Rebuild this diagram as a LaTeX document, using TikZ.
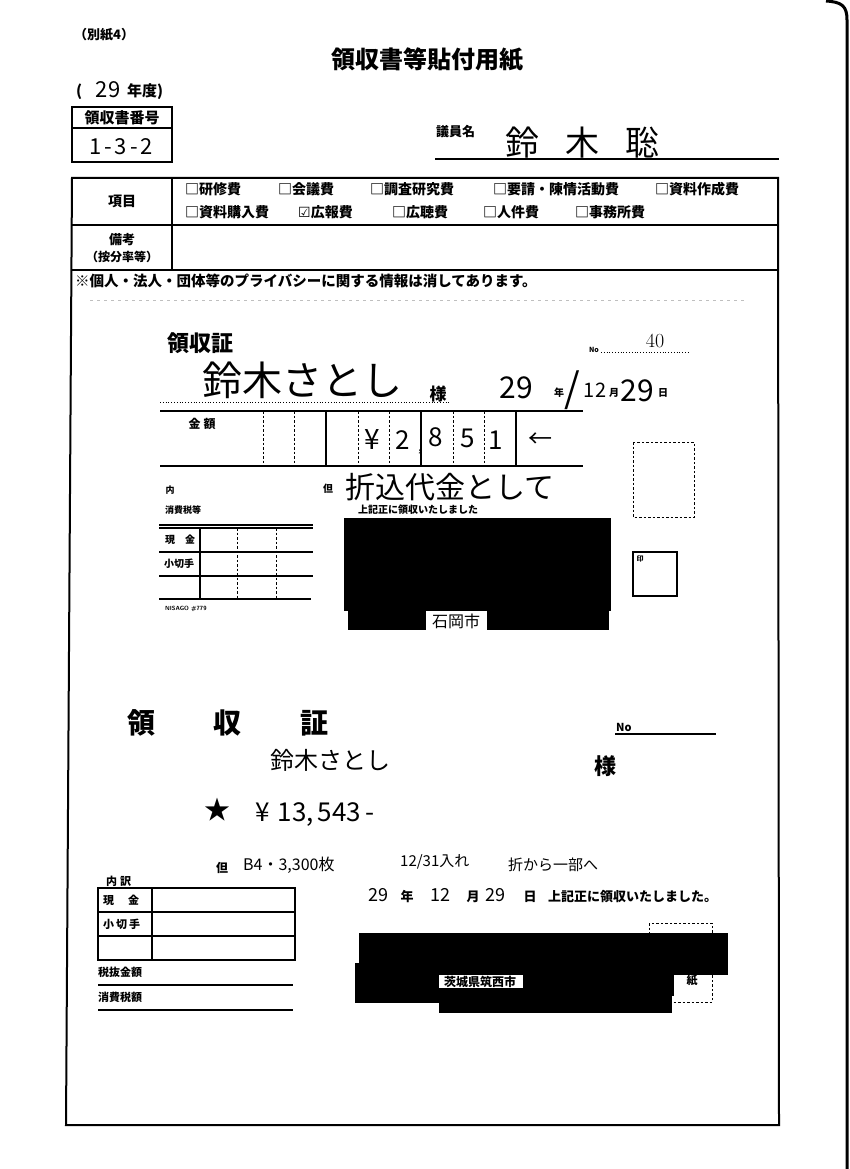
\documentclass[tikz,border=0pt]{standalone}
\usepackage{fontspec}
\newfontfamily\jp{Noto Sans CJK JP}
\newfontfamily\dv{DejaVu Sans}
\begin{document}
\begin{tikzpicture}[x=1pt,y=-1pt]
\tikzset{
  pb/.style={font=\jp\bfseries\fontsize{#1}{#1}\selectfont, inner sep=0pt},
  hw/.style={font=\jp\fontsize{#1}{#1}\selectfont, inner sep=0pt},
  frame/.style={line width=2pt},
  thinline/.style={line width=1.1pt},
  dsh/.style={line width=1pt, dash pattern=on 2.5pt off 2pt},
  redact/.style={fill=black},
}
\useasboundingbox[fill=white] (0,0) rectangle (850,1169);

% ---------- header ----------
\node[pb=13, anchor=west] (bessi) at (74,35) {（別紙4）};
\node[pb=24] (title) at (427,60) {領収書等貼付用紙};
\node[pb=15, anchor=west] (nendoL) at (76,92) {(};
\node[hw=22] (nendoN) at (108,90) {29};
\node[pb=15, anchor=west] (nendoR) at (127,92) {年度)};
\draw[frame] (72,107) rectangle (172,162);
\draw[frame] (72,128) -- (172,128);
\node[pb=15] (rsbLbl) at (122,118) {領収書番号};
\node[hw=22] (rsbNo) at (121,147) {1\hspace{3pt}-\hspace{3pt}3\hspace{3pt}-\hspace{3pt}2};
\node[pb=13, anchor=west] (giin) at (436,132) {議員名};
\node[hw=34, anchor=west] (giinName) at (505,143) {鈴\hspace{26pt}木\hspace{26pt}聡};
\draw[line width=1.6pt] (435,159) -- (779,159);

% ---------- main frame ----------
\draw[frame] (72,178) -- (778,178) -- (779,1125) -- (66,1125) -- (72,178) -- cycle;
\draw[frame] (72,225) -- (778,225);
\draw[frame] (72,270) -- (778,270);
\draw[frame] (172,178) -- (172,270);
\node[pb=14] (koumoku) at (122,201) {項目};
\node[pb=13] (bikou) at (122,240) {備考};
\node[pb=12] (anbun) at (122,257) {（按分率等）};
\node[pb=14, anchor=west] (c1) at (185,189) {□研修費};
\node[pb=14, anchor=west] (c2) at (278,189) {□会議費};
\node[pb=14, anchor=west] (c3) at (370,189) {□調査研究費};
\node[pb=14, anchor=west] (c4) at (493,189) {□要請・陳情活動費};
\node[pb=14, anchor=west] (c5) at (655,189) {□資料作成費};
\node[pb=14, anchor=west] (c6) at (185,212) {□資料購入費};
\node[pb=14, anchor=west] (c7) at (298,212) {{\dv\mdseries ☑}広報費};
\node[pb=14, anchor=west] (c8) at (392,212) {□広聴費};
\node[pb=14, anchor=west] (c9) at (483,212) {□人件費};
\node[pb=14, anchor=west] (c10) at (575,212) {□事務所費};
\node[pb=14.5, anchor=west] (privacy) at (75,281) {※個人・法人・団体等のプライバシーに関する情報は消してあります。};
\draw[gray!50, line width=0.6pt, dash pattern=on 3pt off 4pt] (90,300) -- (745,300);

% ---------- receipt 1 ----------
\node[pb=22, anchor=west] (r1title) at (167,343) {領収証};
\node[pb=7] (r1nolbl) at (594,350) {No};
\draw[dotted, line width=0.8pt] (601,352) -- (690,352);
\node[font=\rmfamily\fontsize{20}{20}\selectfont, inner sep=0pt] (r1no) at (655,341) {40};
\node[hw=40, anchor=west] (r1name) at (202,380) {鈴木さとし};
\node[pb=17] (r1sama) at (438,394) {様};
\draw[dotted, line width=0.8pt] (160,402) -- (450,402);
\node[hw=30] (r1y) at (516,388) {29};
\node[pb=10] (r1nen) at (559,393) {年};
\node[hw=40] (r1slash) at (572,390) {/};
\node[hw=20] (r1m) at (595,390) {12};
\node[pb=10] (r1gatsu) at (614,393) {月};
\node[hw=30] (r1d) at (637,391) {29};
\node[pb=10] (r1nichi) at (663,393) {日};
\draw[line width=2pt] (160,411) -- (583,411);
\draw[thinline] (160,466) -- (583,466);
\foreach \xx in {263,294,358,389,453,484} {\draw[dsh] (\xx,411) -- (\xx,466);}
\draw[line width=1.8pt] (326,411) -- (326,466);
\draw[thinline] (421,411) -- (421,466);
\draw[line width=1.6pt] (516,411) -- (516,466);
\node[pb=12] (r1kingaku) at (202,424) {金\hspace{3pt}額};
\node[hw=28] (r1yen) at (372,440) {¥};
\node[hw=26] (r1d1) at (403,440) {2};
\node[hw=14] (r1comma) at (420,452) {,};
\node[hw=26] (r1d2) at (436,437) {8};
\node[hw=26] (r1d3) at (468,438) {5};
\node[hw=26] (r1d4) at (496,440) {1};
\node[hw=24] (r1arrow) at (540,440) {←};
\node[pb=9] (r1uchi) at (170,490) {内};
\node[pb=10] (r1tadashi) at (328,489) {但};
\node[hw=30, anchor=west] (r1tada) at (345,487) {折込代金として};
\node[pb=9, anchor=west] (r1tax) at (165,510) {消費税等};
\node[pb=10, anchor=west] (r1ryoshu) at (358,510) {上記正に領収いたしました};
\draw[dsh] (633,442) rectangle (694,517);
\draw[thinline] (159,525) -- (313,525);
\draw[thinline] (159,528) -- (313,528);
\draw[thinline] (159,552) -- (313,552);
\draw[thinline] (159,576) -- (313,576);
\draw[thinline] (159,599) -- (311,599);
\draw[thinline] (200,528) -- (200,599);
\draw[dsh] (237,528) -- (237,599);
\draw[dsh] (276,528) -- (276,599);
\node[pb=10, anchor=west] (r1genkin) at (165,540) {現\hspace{10pt}金};
\node[pb=10, anchor=west] (r1kogitte) at (164,564) {小切手};
\node[font=\sffamily\bfseries\fontsize{6}{6}\selectfont, anchor=west, inner sep=0pt] (r1nisago) at (165,609) {NISAGO \#779};
\fill[redact] (344,518) rectangle (611,611);
\fill[redact] (348,611) rectangle (609,630);
\fill[white] (426,611) rectangle (487,630);
\node[hw=16] (r1city) at (456,621) {石岡市};
\draw[thinline] (633,552) rectangle (677,596);
\node[pb=7] (r1in) at (640,559) {印};

% ---------- receipt 2 ----------
\node[pb=28] (r2a) at (141,723) {領};
\node[pb=28] (r2b) at (227,723) {収};
\node[pb=28] (r2c) at (314,723) {証};
\node[pb=11, anchor=west] (r2no) at (616,727) {No};
\draw[thinline] (615,734) -- (716,734);
\node[hw=24, anchor=west] (r2name) at (270,760) {鈴木さとし};
\node[pb=22] (r2sama) at (605,766) {様};
\node[font=\jp\fontsize{26}{26}\selectfont, inner sep=0pt] (r2star) at (217,810) {★};
\node[hw=26, anchor=west] (r2amt) at (255,815) {¥\hspace{8pt}13,\hspace{4pt}543\hspace{4pt}-};
\node[pb=12] (r2tadashi) at (222,868) {但};
\node[hw=16, anchor=west] (r2t1) at (243,865) {B4・3,300枚};
\node[hw=15, anchor=west] (r2t2) at (400,862) {12/31入れ};
\node[hw=15, anchor=west] (r2t3) at (508,865) {折から一部へ};
\node[pb=11, anchor=west] (r2uchiwake) at (106,881) {内\hspace{3pt}訳};
\draw[line width=1.5pt] (98,888) rectangle (295,960);
\draw[thinline] (98,912) -- (295,912);
\draw[thinline] (98,936) -- (295,936);
\draw[thinline] (152,888) -- (152,960);
\node[pb=11, anchor=west] (r2genkin) at (103,900) {現\hspace{14pt}金};
\node[pb=11, anchor=west] (r2kogitte) at (103,924) {小\hspace{2pt}切\hspace{2pt}手};
\node[pb=11, anchor=west] (r2zeinuki) at (98,972) {税抜金額};
\draw[thinline] (98,985) -- (293,985);
\node[pb=11, anchor=west] (r2shohi) at (98,997) {消費税額};
\draw[thinline] (98,1010) -- (293,1010);
\node[hw=18] (r2y) at (378,895) {29};
\node[pb=13] (r2nen) at (407,897) {年};
\node[hw=18] (r2m) at (440,895) {12};
\node[pb=13] (r2gatsu) at (473,897) {月};
\node[hw=18] (r2d) at (495,895) {29};
\node[pb=13] (r2nichi) at (530,897) {日};
\node[pb=13, anchor=west] (r2ryoshu) at (548,897) {上記正に領収いたしました。};
\draw[dsh] (649,923) rectangle (712,1002);
\fill[redact] (359,933) rectangle (728,975);
\fill[redact] (355,963) rectangle (439,1003);
\fill[redact] (523,975) rectangle (674,996);
\fill[redact] (439,988) rectangle (672,1013);
\node[pb=12] (r2city) at (480,982) {茨城県筑西市};
\node[pb=11] (r2shi) at (692,980) {紙};

% ---------- scanner edge ----------
\draw[line width=3pt] (826,1) .. controls (842,2) and (847,6) .. (847,20) -- (847,1169);
\end{tikzpicture}
\end{document}
